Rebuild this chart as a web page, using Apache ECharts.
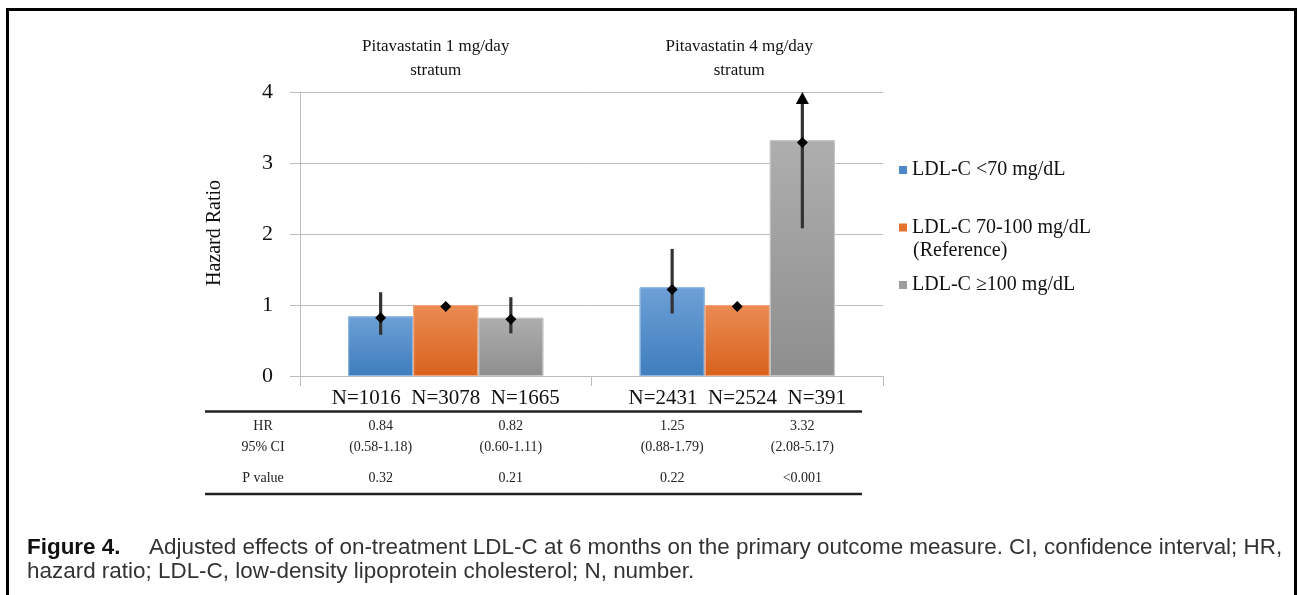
<!DOCTYPE html>
<html><head><meta charset="utf-8">
<script src="https://cdn.jsdelivr.net/npm/echarts@6/dist/echarts.min.js"></script>
<style>html,body{margin:0;padding:0;background:#fff}#c{width:1298px;height:595px}</style>
</head><body><div id="c"></div>
<script>
// ---- data ----
const categories = ['N=1016  N=3078  N=1665', 'N=2431  N=2524  N=391'];
const strata = ['Pitavastatin 1 mg/day\nstratum', 'Pitavastatin 4 mg/day\nstratum'];
const seriesNames = ['LDL-C <70 mg/dL', 'LDL-C 70-100 mg/dL', 'LDL-C \u2265100 mg/dL'];
const hrBelow70 = [0.84, 1.25];
const hrReference = [1.00, 1.00];
const hrAbove100 = [0.82, 3.32];
const pointBelow70 = [0.82, 1.22];
const pointReference = [0.98, 0.98];
const pointAbove100 = [0.80, 3.29];
const ciLowBelow70 = [0.58, 0.88];
const ciHighBelow70 = [1.18, 1.79];
const ciLowAbove100 = [0.60, 2.08];
const ciHighAbove100 = [1.11, 5.17];
const yMin = 0, yMax = 4, yStep = 1;
const tableRowLabels = ['HR', '95% CI', 'P value'];
const tableHR = ['0.84', '0.82', '1.25', '3.32'];
const tableCI = ['(0.58-1.18)', '(0.60-1.11)', '(0.88-1.79)', '(2.08-5.17)'];
const tableP = ['0.32', '0.21', '0.22', '<0.001'];
const captionBold = 'Figure 4.';
const captionLine1 = 'Adjusted effects of on-treatment LDL-C at 6 months on the primary outcome measure. CI, confidence interval; HR,';
const captionLine2 = 'hazard ratio; LDL-C, low-density lipoprotein cholesterol; N, number.';

// ---- styles ----
const SERIF = '"Liberation Serif", "Times New Roman", serif';
const SANS = '"Liberation Sans", Arial, sans-serif';
const GAP_RATIO = 0.33;
function grad(top, bottom) {
  return new echarts.graphic.LinearGradient(0, 0, 0, 1, [{offset: 0, color: top}, {offset: 1, color: bottom}]);
}
const barColors = [grad('#6DA0D6', '#3F7DBD'), grad('#EA8B52', '#D8621D'), grad('#AEAEAE', '#8E8E8E')];
const legendColors = ['#4F88C8', '#E5732F', '#9E9E9E'];
const borderColors = ['#8DB6E0', '#F0A57A', '#C4C4C4'];

const hrSeries = [hrBelow70, hrReference, hrAbove100];
const ptSeries = [pointBelow70, pointReference, pointAbove100];
const ciLow = [ciLowBelow70, [null, null], ciLowAbove100];
const ciHigh = [ciHighBelow70, [null, null], ciHighAbove100];

const errData = [];
for (let i = 0; i < categories.length; i++) {
  for (let j = 0; j < 3; j++) {
    errData.push([i, j, ciLow[j][i] == null ? -1 : ciLow[j][i], ciHigh[j][i] == null ? -1 : ciHigh[j][i], ptSeries[j][i]]);
  }
}

const chart = echarts.init(document.getElementById('c'), null, {renderer: 'canvas'});

function renderErr(params, api) {
  const i = api.value(0), j = api.value(1), lo = api.value(2), hi = api.value(3), pt = api.value(4);
  const c = api.coord([i, 0]);
  const band = api.size([1, 0])[0];
  const barW = band * (1 - GAP_RATIO) / 3;
  const x = c[0] + (j - 1) * barW;
  const children = [];
  const col = '#333333';
  if (lo >= 0) {
    const yLo = api.coord([i, lo])[1];
    const clipped = hi > yMax;
    const yTip = api.coord([i, Math.min(hi, yMax)])[1];
    const yEnd = clipped ? yTip + 10 : yTip;
    children.push({type: 'line', shape: {x1: x, y1: yLo, x2: x, y2: yEnd}, style: {stroke: col, lineWidth: 3.2}});
    if (clipped) {
      children.push({type: 'polygon', shape: {points: [[x, yTip], [x - 6.5, yTip + 12], [x + 6.5, yTip + 12]]}, style: {fill: '#000'}});
    }
  }
  const yp = api.coord([i, pt])[1];
  const d = 5.5;
  children.push({type: 'polygon', shape: {points: [[x, yp - d], [x + d, yp], [x, yp + d], [x - d, yp]]}, style: {fill: '#000'}});
  return {type: 'group', children: children};
}

const option = {
  animation: false,
  backgroundColor: '#fff',
  grid: {left: 300, right: 415, top: 92, bottom: 219},
  legend: {
    orient: 'vertical', left: 899, top: 160, padding: 0, itemGap: 37.5,
    itemWidth: 8, itemHeight: 8, icon: 'rect',
    itemStyle: {borderWidth: 0},
    textStyle: {fontFamily: SERIF, fontSize: 20, lineHeight: 20, color: '#111'},
    data: seriesNames.map((n, k) => ({name: n, itemStyle: {color: legendColors[k], borderWidth: 0}}))
  },
  xAxis: [
    {
      type: 'category', data: categories, position: 'bottom',
      axisLine: {show: true, lineStyle: {color: '#BDBDBD', width: 1}},
      axisTick: {show: true, length: 10, lineStyle: {color: '#BDBDBD'}},
      axisLabel: {fontFamily: SERIF, fontSize: 21, color: '#111', margin: 12, interval: 0, hideOverlap: false}
    },
    {
      type: 'category', position: 'top',
      data: [
        {value: strata[0], textStyle: {padding: [0, 20, 0, 0]}},
        {value: strata[1], textStyle: {padding: [0, 0, 0, 4]}}
      ],
      axisLine: {show: false}, axisTick: {show: false},
      axisLabel: {fontFamily: SERIF, fontSize: 17, lineHeight: 24, color: '#111', margin: 9, interval: 0}
    }
  ],
  yAxis: {
    type: 'value', min: yMin, max: yMax, interval: yStep,
    axisLine: {show: true, lineStyle: {color: '#BDBDBD', width: 1}},
    axisTick: {show: true, length: 10, lineStyle: {color: '#BDBDBD'}},
    splitLine: {show: true, lineStyle: {color: '#BDBDBD', width: 1}},
    axisLabel: {fontFamily: SERIF, fontSize: 22, color: '#111', margin: 27}
  },
  series: [
    ...seriesNames.map((n, k) => ({
      name: n, type: 'bar', data: hrSeries[k], barGap: '0%', barCategoryGap: (GAP_RATIO * 100) + '%',
      itemStyle: {color: barColors[k], borderColor: borderColors[k], borderWidth: 1}
    })),
    {
      type: 'custom', renderItem: renderErr, data: errData, z: 10, clip: false,
      encode: {x: 0, y: [2, 3, 4]}, silent: true
    }
  ]
};
chart.setOption(option);

// ---- annotations: table, titles, caption ----
const c0 = chart.convertToPixel({xAxisIndex: 0}, 0);
const c1 = chart.convertToPixel({xAxisIndex: 0}, 1);
const band = c1 - c0;
const barW = band * (1 - GAP_RATIO) / 3;
const cols = [c0 - barW, c0 + barW, c1 - barW, c1 + barW];

const ctx = document.createElement('canvas').getContext('2d');
ctx.font = '20px ' + SANS;
const capSize = 20 * (1283 - 149) / ctx.measureText(captionLine1).width;

const g = [];
g.push({type: 'rect', shape: {x: 7.5, y: 9.5, width: 1288, height: 700}, style: {fill: null, stroke: '#000', lineWidth: 3}, silent: true});
g.push({type: 'text', x: 215, y: 233, rotation: Math.PI / 2, style: {text: 'Hazard Ratio', font: '20px ' + SERIF, fill: '#111', align: 'center', verticalAlign: 'middle'}});
g.push({type: 'text', x: 913, y: 251, style: {text: '(Reference)', font: '20px ' + SERIF, fill: '#111', align: 'left', verticalAlign: 'middle'}});
g.push({type: 'line', shape: {x1: 205, y1: 411.5, x2: 862, y2: 411.5}, style: {stroke: '#222', lineWidth: 2.5}});
g.push({type: 'line', shape: {x1: 205, y1: 494, x2: 862, y2: 494}, style: {stroke: '#222', lineWidth: 2.5}});
const rowY = [426, 447, 478];
tableRowLabels.forEach((t, r) => g.push({type: 'text', x: 263, y: rowY[r], style: {text: t, font: '14px ' + SERIF, fill: '#222', align: 'center', verticalAlign: 'middle'}}));
cols.forEach((x, k) => {
  [tableHR[k], tableCI[k], tableP[k]].forEach((t, r) => g.push({type: 'text', x: x, y: rowY[r], style: {text: t, font: '14px ' + SERIF, fill: '#222', align: 'center', verticalAlign: 'middle'}}));
});
g.push({type: 'text', x: 27, y: 548, style: {text: captionBold, font: 'bold ' + capSize.toFixed(2) + 'px ' + SANS, fill: '#111', align: 'left', verticalAlign: 'middle'}});
g.push({type: 'text', x: 149, y: 548, style: {text: captionLine1, font: capSize.toFixed(2) + 'px ' + SANS, fill: '#333', align: 'left', verticalAlign: 'middle'}});
g.push({type: 'text', x: 27, y: 572, style: {text: captionLine2, font: capSize.toFixed(2) + 'px ' + SANS, fill: '#333', align: 'left', verticalAlign: 'middle'}});
chart.setOption({graphic: g});
</script>
</body></html>
